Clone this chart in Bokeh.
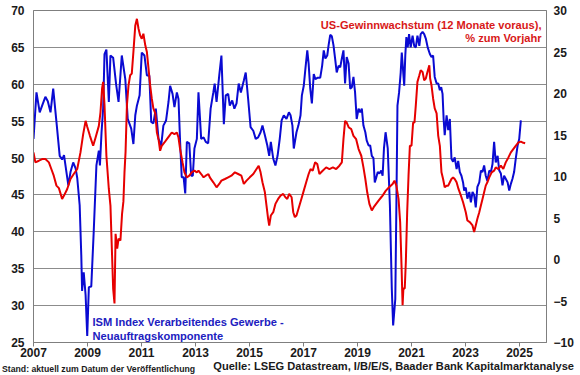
from bokeh.plotting import figure
from bokeh.models import Range1d, LinearAxis, FixedTicker, Label, Div
from bokeh.layouts import column
from bokeh.embed import file_html
from bokeh.resources import INLINE

# ISM Index Verarbeitendes Gewerbe - Neuauftragskomponente (left axis)
ism_dates = [2007.00, 2007.11, 2007.23, 2007.32, 2007.44, 2007.53, 2007.63, 2007.73, 2007.85, 2007.97,
             2008.06, 2008.13, 2008.22, 2008.29, 2008.37, 2008.47, 2008.56, 2008.62, 2008.71, 2008.77,
             2008.80, 2008.86, 2008.93, 2008.99, 2009.05, 2009.14, 2009.23, 2009.33, 2009.42, 2009.46,
             2009.52, 2009.58, 2009.63, 2009.70, 2009.79, 2009.85, 2009.95, 2010.06, 2010.15, 2010.27,
             2010.40, 2010.49, 2010.62, 2010.70, 2010.77, 2010.83, 2010.93, 2011.01, 2011.11, 2011.20,
             2011.29, 2011.36, 2011.44, 2011.53, 2011.63, 2011.73, 2011.81, 2011.91, 2012.00, 2012.06,
             2012.15, 2012.22, 2012.31, 2012.37, 2012.43, 2012.49, 2012.56, 2012.62, 2012.68, 2012.77,
             2012.84, 2012.90, 2012.96, 2013.05, 2013.11, 2013.21, 2013.30, 2013.38, 2013.47, 2013.56,
             2013.66, 2013.71, 2013.78, 2013.88, 2013.96, 2014.05, 2014.12, 2014.21, 2014.27, 2014.36,
             2014.44, 2014.52, 2014.60, 2014.68, 2014.79, 2014.86, 2014.95, 2015.04, 2015.14, 2015.23,
             2015.32, 2015.41, 2015.48, 2015.57, 2015.66, 2015.73, 2015.79, 2015.88, 2015.96, 2016.04,
             2016.12, 2016.19, 2016.27, 2016.37, 2016.46, 2016.52, 2016.59, 2016.64, 2016.74, 2016.81,
             2016.89, 2016.94, 2017.01, 2017.07, 2017.14, 2017.19, 2017.25, 2017.31, 2017.38, 2017.44,
             2017.53, 2017.62, 2017.69, 2017.75, 2017.81, 2017.88, 2017.93, 2017.99, 2018.05, 2018.11,
             2018.17, 2018.23, 2018.30, 2018.36, 2018.42, 2018.48, 2018.54, 2018.60, 2018.67, 2018.73,
             2018.79, 2018.85, 2018.91, 2018.97, 2019.04, 2019.10, 2019.16, 2019.22, 2019.29, 2019.34,
             2019.41, 2019.47, 2019.53, 2019.59, 2019.64, 2019.69, 2019.75, 2019.81, 2019.88, 2019.93,
             2019.98, 2020.04, 2020.12, 2020.20, 2020.27, 2020.32, 2020.40, 2020.44, 2020.48, 2020.54,
             2020.60, 2020.64, 2020.73, 2020.77, 2020.81, 2020.86, 2020.91, 2020.97, 2021.04, 2021.10,
             2021.16, 2021.22, 2021.29, 2021.34, 2021.41, 2021.47, 2021.53, 2021.60, 2021.68, 2021.74,
             2021.80, 2021.86, 2021.93, 2021.99, 2022.05, 2022.10, 2022.15, 2022.19, 2022.23, 2022.30,
             2022.36, 2022.42, 2022.48, 2022.54, 2022.60, 2022.67, 2022.73, 2022.79, 2022.85, 2022.91,
             2022.95, 2023.01, 2023.07, 2023.14, 2023.20, 2023.26, 2023.32, 2023.38, 2023.44, 2023.51,
             2023.57, 2023.63, 2023.69, 2023.75, 2023.81, 2023.88, 2023.94, 2024.00, 2024.06, 2024.12,
             2024.19, 2024.25, 2024.31, 2024.37, 2024.43, 2024.49, 2024.56, 2024.62, 2024.68, 2024.74,
             2024.80, 2024.86, 2024.93, 2024.99, 2025.05]
ism_values = [52.6, 58.9, 56.2, 57.1, 58.3, 57.7, 56.2, 59.4, 54.9, 50.3,
              49.8, 50.4, 48.1, 46.3, 48.1, 49.4, 48.6, 47.3, 43.6, 36.8,
              32.0, 34.5, 31.4, 25.9, 32.5, 32.6, 40.0, 49.0, 51.0, 49.0,
              53.5, 56.7, 64.1, 64.7, 57.6, 63.9, 63.6, 60.0, 57.6, 63.9,
              60.7, 55.3, 54.0, 51.9, 55.8, 57.1, 58.5, 64.3, 63.9, 61.2,
              61.2, 54.9, 54.7, 56.7, 52.6, 51.7, 54.4, 55.1, 57.6, 59.8,
              58.7, 56.9, 58.9, 58.0, 52.2, 47.4, 47.4, 45.2, 52.2, 52.0,
              47.6, 47.6, 51.3, 52.6, 58.9, 52.6, 52.8, 52.2, 52.0, 56.7,
              58.9, 60.1, 57.6, 61.2, 63.9, 54.6, 58.5, 58.7, 57.1, 57.8,
              56.7, 57.4, 60.1, 58.9, 60.5, 61.6, 58.0, 54.2, 53.7, 52.6,
              52.8, 53.5, 54.4, 53.1, 51.7, 50.3, 52.2, 49.9, 49.0, 50.3,
              52.6, 55.1, 55.8, 55.3, 56.2, 55.8, 54.4, 51.3, 53.5, 54.4,
              55.8, 58.5, 59.8, 62.1, 64.6, 62.8, 59.4, 57.4, 61.4, 60.7,
              60.9, 60.9, 62.5, 64.6, 63.5, 63.9, 65.3, 66.7, 66.5, 65.3,
              63.5, 61.6, 62.5, 62.3, 63.5, 64.6, 60.1, 63.7, 62.8, 59.4,
              59.6, 61.0, 58.9, 55.3, 56.7, 56.2, 56.7, 54.4, 53.5, 52.4,
              51.7, 51.7, 50.3, 50.0, 46.7, 47.3, 48.1, 47.9, 48.3, 47.6,
              51.3, 53.5, 51.3, 43.6, 32.3, 27.3, 30.9, 43.6, 57.1, 58.9,
              61.6, 64.3, 59.8, 63.9, 66.4, 65.0, 66.8, 65.0, 66.6, 65.2,
              65.0, 66.6, 65.2, 66.8, 67.1, 66.8, 66.2, 65.0, 64.1, 63.7,
              63.9, 61.0, 60.1, 60.1, 59.2, 59.6, 58.7, 55.3, 53.1, 55.8,
              53.8, 55.3, 49.9, 49.5, 50.1, 48.5, 49.6, 48.1, 47.6, 46.7,
              45.6, 46.0, 44.5, 45.4, 44.0, 45.4, 45.0, 43.3, 46.1, 46.7,
              48.3, 48.1, 49.0, 47.6, 46.9, 48.3, 48.1, 49.2, 52.2, 49.4,
              50.3, 48.3, 47.9, 46.3, 47.6, 47.2, 46.7, 45.6, 46.5, 47.2,
              48.1, 49.9, 51.7, 52.6, 55.1]

# US-Gewinnwachstum (12 Monate voraus), % zum Vorjahr (right axis)
eps_dates = [2007.00, 2007.07, 2007.20, 2007.32, 2007.44, 2007.57, 2007.66, 2007.75, 2007.85, 2007.94,
             2008.06, 2008.13, 2008.25, 2008.37, 2008.49, 2008.62, 2008.74, 2008.84, 2008.93, 2008.99,
             2009.09, 2009.21, 2009.30, 2009.42, 2009.48, 2009.54, 2009.58, 2009.63, 2009.70, 2009.79,
             2009.85, 2009.91, 2009.95, 2010.00, 2010.04, 2010.10, 2010.15, 2010.22, 2010.28, 2010.33,
             2010.37, 2010.41, 2010.46, 2010.52, 2010.58, 2010.64, 2010.70, 2010.77, 2010.83, 2010.89,
             2010.95, 2011.01, 2011.07, 2011.14, 2011.20, 2011.26, 2011.32, 2011.38, 2011.44, 2011.51,
             2011.57, 2011.63, 2011.69, 2011.75, 2011.85, 2011.94, 2012.03, 2012.12, 2012.22, 2012.31,
             2012.37, 2012.43, 2012.52, 2012.59, 2012.68, 2012.77, 2012.86, 2012.96, 2013.05, 2013.11,
             2013.21, 2013.30, 2013.38, 2013.48, 2013.53, 2013.66, 2013.78, 2013.88, 2013.96, 2014.09,
             2014.21, 2014.33, 2014.46, 2014.58, 2014.70, 2014.79, 2014.89, 2015.01, 2015.14, 2015.26,
             2015.34, 2015.41, 2015.48, 2015.57, 2015.63, 2015.69, 2015.73, 2015.79, 2015.88, 2015.96,
             2016.06, 2016.15, 2016.25, 2016.33, 2016.40, 2016.47, 2016.56, 2016.62, 2016.68, 2016.74,
             2016.85, 2016.94, 2017.01, 2017.10, 2017.19, 2017.26, 2017.34, 2017.43, 2017.51, 2017.59,
             2017.71, 2017.84, 2017.96, 2018.09, 2018.21, 2018.33, 2018.42, 2018.48, 2018.54, 2018.60,
             2018.68, 2018.77, 2018.85, 2018.95, 2019.04, 2019.14, 2019.22, 2019.29, 2019.36, 2019.44,
             2019.53, 2019.60, 2019.69, 2019.78, 2019.88, 2019.93, 2020.05, 2020.17, 2020.30, 2020.37,
             2020.44, 2020.52, 2020.58, 2020.63, 2020.67, 2020.70, 2020.75, 2020.79, 2020.84, 2020.89,
             2020.94, 2021.00, 2021.06, 2021.11, 2021.16, 2021.22, 2021.29, 2021.34, 2021.41, 2021.47,
             2021.53, 2021.59, 2021.66, 2021.69, 2021.74, 2021.80, 2021.86, 2021.93, 2021.99, 2022.05,
             2022.11, 2022.17, 2022.23, 2022.30, 2022.36, 2022.42, 2022.48, 2022.54, 2022.60, 2022.67,
             2022.74, 2022.83, 2022.91, 2023.01, 2023.07, 2023.16, 2023.26, 2023.32, 2023.38, 2023.44,
             2023.51, 2023.57, 2023.63, 2023.69, 2023.75, 2023.81, 2023.88, 2023.97, 2024.06, 2024.12,
             2024.22, 2024.31, 2024.40, 2024.49, 2024.59, 2024.68, 2024.77, 2024.86, 2024.96, 2025.05,
             2025.11, 2025.21]
eps_values = [12.9, 11.7, 11.9, 12.1, 12.1, 11.7, 10.9, 10.1, 8.9, 8.6,
              7.3, 7.7, 8.5, 9.7, 10.3, 10.9, 12.9, 15.1, 16.7, 16.0,
              14.9, 13.7, 14.7, 16.1, 17.7, 20.6, 21.4, 18.6, 12.5, 8.5,
              6.5, 0.5, -3.5, -5.3, 3.1, 1.3, 2.5, 2.3, 5.5, 7.0,
              10.5, 13.0, 18.6, 21.0, 22.2, 22.4, 25.0, 28.2, 29.0, 27.8,
              27.0, 26.6, 27.2, 25.8, 25.0, 23.0, 21.0, 19.4, 18.2, 17.6,
              15.3, 14.5, 13.1, 13.7, 14.1, 14.5, 14.9, 15.3, 15.1, 15.3,
              14.7, 13.3, 11.7, 10.5, 9.9, 10.1, 10.5, 10.7, 10.5, 10.7,
              10.3, 9.9, 10.1, 10.3, 9.9, 9.3, 8.7, 9.1, 9.5, 9.7,
              9.9, 10.1, 10.5, 10.3, 10.1, 9.1, 9.5, 9.9, 10.3, 10.9,
              11.3, 10.5, 9.3, 8.1, 6.5, 4.9, 4.1, 5.3, 5.7, 6.7,
              7.3, 7.7, 7.9, 7.5, 7.3, 7.9, 7.5, 5.7, 5.1, 5.3,
              6.5, 7.5, 8.3, 9.3, 10.3, 10.9, 10.7, 11.7, 11.5, 10.3,
              10.7, 11.1, 10.9, 11.1, 10.9, 11.3, 11.7, 14.5, 16.7, 16.5,
              15.9, 15.7, 14.9, 14.5, 13.3, 12.5, 11.1, 9.7, 8.1, 6.7,
              5.9, 6.3, 6.7, 7.1, 7.5, 7.7, 8.3, 8.7, 9.1, 9.5,
              8.9, 7.3, 4.5, -0.7, -5.5, -3.5, -3.5, -0.3, 5.7, 10.1,
              13.7, 13.7, 16.5, 16.5, 18.6, 21.4, 22.2, 22.8, 22.6, 21.6,
              21.8, 22.6, 23.4, 21.8, 21.0, 19.4, 18.2, 17.6, 14.9, 13.7,
              10.5, 9.7, 8.7, 8.9, 8.9, 9.3, 9.7, 9.9, 9.7, 9.3,
              8.5, 7.7, 6.9, 5.7, 4.7, 4.5, 4.1, 3.3, 4.1, 4.9,
              5.7, 6.5, 7.3, 8.1, 8.9, 9.3, 9.9, 10.5, 10.7, 11.1,
              10.9, 11.3, 10.9, 11.7, 12.3, 12.9, 13.3, 13.7, 14.1, 14.2,
              14.1, 14.0]

x_ticks = [2007, 2009, 2011, 2013, 2015, 2017, 2019, 2021, 2023, 2025]
left_ticks = [25, 30, 35, 40, 45, 50, 55, 60, 65, 70]
right_ticks = [-10, -5, 0, 5, 10, 15, 20, 25, 30]

FONT = "Liberation Sans"
BLUE = "#0a0ad2"
RED = "#e60000"
MAIN_H = 360
FOOT_H = 375 - MAIN_H

p = figure(width=580, height=MAIN_H, x_range=Range1d(2007, 2026), y_range=Range1d(25, 70),
           output_backend="svg", toolbar_location=None,
           min_border_left=33, min_border_right=34, min_border_top=10, min_border_bottom=18)
p.extra_y_ranges = {"r": Range1d(-10, 30)}

p.outline_line_color = "#7f7f7f"
p.outline_line_width = 1
p.background_fill_color = "white"
p.border_fill_color = "white"

p.xgrid.visible = False
p.ygrid.grid_line_color = "#8c8c8c"
p.ygrid.grid_line_width = 1
p.ygrid.ticker = FixedTicker(ticks=left_ticks)

p.xaxis.ticker = FixedTicker(ticks=x_ticks)
p.xaxis.major_label_overrides = {t: str(t) for t in x_ticks}
p.yaxis.ticker = FixedTicker(ticks=left_ticks)

raxis = LinearAxis(y_range_name="r", ticker=FixedTicker(ticks=right_ticks))
p.add_layout(raxis, "right")

for ax in [p.xaxis[0], p.yaxis[0], raxis]:
    ax.axis_line_color = "#7f7f7f"
    ax.major_label_text_font = FONT
    ax.major_label_text_font_style = "bold"
    ax.major_label_text_font_size = "12px"
    ax.major_label_text_color = "#1a1a1a"
    ax.minor_tick_line_color = None
    ax.major_tick_line_color = "#7f7f7f"

p.xaxis.major_tick_out = 4
p.xaxis.major_tick_in = 0
p.xaxis.major_label_standoff = 1
p.yaxis.major_tick_out = 0
p.yaxis.major_tick_in = 0
p.yaxis.major_label_standoff = 9
raxis.major_tick_out = 0
raxis.major_tick_in = 0
raxis.major_label_standoff = 7

p.line(ism_dates, ism_values, line_color=BLUE, line_width=2)
p.line(eps_dates, eps_values, line_color=RED, line_width=2, y_range_name="r")

# screen units are measured from the frame's lower-left corner (frame: x 33..546, y 10..342)
FL, FB = 33, 342

def lab(x, y, text, size, color, align="left"):
    p.add_layout(Label(x=x - FL, y=FB - y, x_units="screen", y_units="screen", text=text,
                       text_font=FONT, text_font_style="bold", text_font_size=size,
                       text_color=color, text_align=align, text_baseline="alphabetic"))

lab(541, 24, "US-Gewinnwachstum (12 Monate voraus),", "11.1px", "#d81818", "right")
lab(541, 37, "% zum Vorjahr", "11.1px", "#d81818", "right")
lab(92, 321, "ISM Index Verarbeitendes Gewerbe -", "11.1px", "#2020c0")
lab(92, 335, "Neuauftragskomponente", "11.1px", "#2020c0")

# footer line below the chart
stand_text = "Stand: aktuell zum Datum der Veröffentlichung"
source_text = "Quelle: LSEG Datastream, I/B/E/S, Baader Bank Kapitalmarktanalyse"
footer_html = (
    f'<div style="position:relative;width:580px;height:{FOOT_H}px;overflow:visible;'
    f'font-family:\'{FONT}\';font-weight:bold;color:#1a1a1a;line-height:1;">'
    f'<span style="position:absolute;left:2px;top:5px;font-size:8.7px;white-space:nowrap;">{stand_text}</span>'
    f'<span style="position:absolute;right:6px;top:1px;font-size:11.1px;white-space:nowrap;">{source_text}</span>'
    '</div>'
)
foot = Div(text=footer_html, width=580, height=FOOT_H, margin=0)

layout = column(p, foot, spacing=0)
open("out.html", "w").write(file_html(layout, INLINE))
